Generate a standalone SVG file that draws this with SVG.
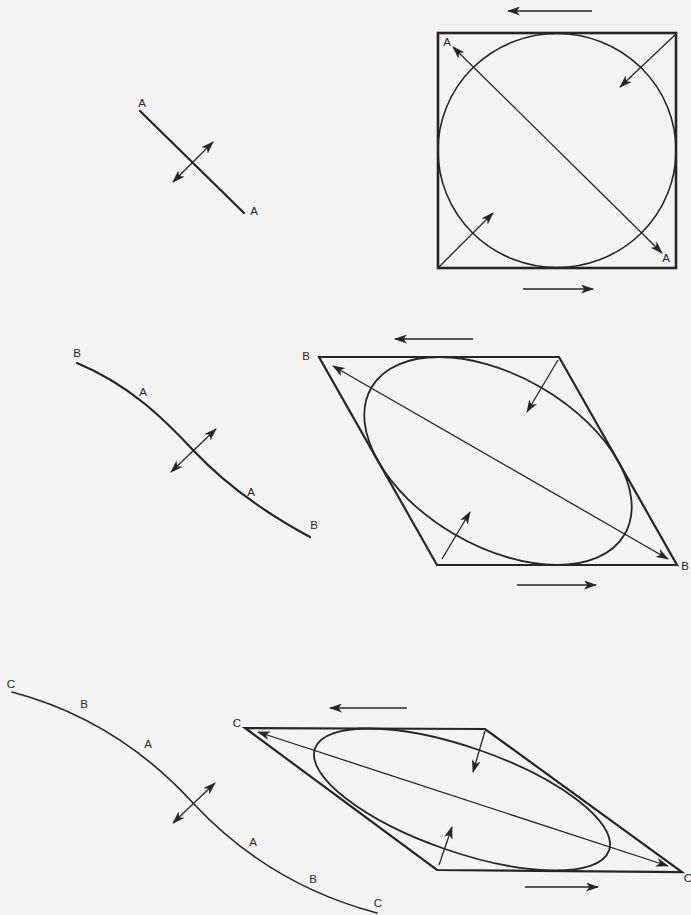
<svg xmlns="http://www.w3.org/2000/svg" width="691" height="915" viewBox="0 0 691 915">
<style>
.bg{fill:#f3f3f3}
.ln{fill:none;stroke:#262626;stroke-linecap:round}
.thick{stroke-width:2.2}
.mid{stroke-width:1.6}
.thin{stroke-width:1.1}
.arr{fill:none;stroke:#262626;stroke-width:1.3;marker-end:url(#ah)}
.dbl{fill:none;stroke:#262626;stroke-width:1.3;marker-start:url(#ah);marker-end:url(#ah)}
.lbl{font-family:"Liberation Sans",Arial,sans-serif;font-size:11.5px;fill:#262626;text-anchor:middle}
</style>
<defs>
<marker id="ah" viewBox="0 0 13 9" refX="12" refY="4.5" markerWidth="13" markerHeight="9" markerUnits="userSpaceOnUse" orient="auto-start-reverse">
<path d="M0,0 L13,4.5 L0,9 L3.5,4.5 Z" fill="#262626"/>
</marker>
</defs>
<rect class="bg" x="0" y="0" width="691" height="915"/>

<g id="fig-a-line">
<path class="ln thick" d="M140,111 L244,213"/>
<text class="lbl" x="142" y="107">A</text>
<text class="lbl" x="254" y="215">A</text>
</g>

<g id="fig-a-square">
<rect class="ln" x="438" y="33" width="238" height="235" stroke-width="2.6"/>
<ellipse class="ln mid" cx="557" cy="150.5" rx="119" ry="117"/>
<text class="lbl" x="447" y="46">A</text>
<text class="lbl" x="666" y="262">A</text>
</g>

<g id="fig-b-curve">
<path class="ln thick" d="M77,363 C130,385 165,420 193,450 C221,480 260,510 310,537"/>
<text class="lbl" x="77" y="357">B</text>
<text class="lbl" x="143" y="396">A</text>
<text class="lbl" x="251" y="496">A</text>
<text class="lbl" x="314" y="529">B</text>
</g>

<g id="fig-b-rhombus">
<path class="ln thick" d="M319,357 L559,357 L677,565 L437,565 Z"/>
<circle class="ln" cx="0" cy="0" r="1" transform="matrix(120,0,59,104,498,461)" vector-effect="non-scaling-stroke" stroke-width="1.8"/>
<text class="lbl" x="306" y="360">B</text>
<text class="lbl" x="685" y="570">B</text>
</g>

<g id="fig-c-curve">
<path class="ln mid" d="M12,692 C80,710 140,745 193,803 C232,845 290,890 377,913"/>
<text class="lbl" x="11" y="688">C</text>
<text class="lbl" x="84" y="708">B</text>
<text class="lbl" x="148" y="748">A</text>
<text class="lbl" x="253" y="846">A</text>
<text class="lbl" x="313" y="883">B</text>
<text class="lbl" x="378" y="907">C</text>
</g>

<g id="fig-c-parallelogram">
<path class="ln thick" d="M245,728 L485,729 L682,872 L437,870 Z"/>
<circle class="ln" cx="0" cy="0" r="1" transform="matrix(116,1,92,71,462,799.5)" vector-effect="non-scaling-stroke" stroke-width="1.8"/>
<text class="lbl" x="237" y="727">C</text>
<text class="lbl" x="688" y="882">C</text>
</g>

<g id="connectors">
<path class="dbl" d="M173,182 L213,142"/>
<path class="dbl" d="M453,47 L662,253" stroke-width="1.1"/>
<path class="arr" d="M676,34 L620,87"/>
<path class="arr" d="M438,268 L493,213"/>
<path class="arr" d="M592,11 L508,11"/>
<path class="arr" d="M523,289 L593,289" stroke-width="1"/>

<path class="dbl" d="M171,472 L216,429"/>
<path class="dbl" d="M333,366 L668,559" stroke-width="1"/>
<path class="arr" d="M558,360 L527,412"/>
<path class="arr" d="M442,559 L470,512"/>
<path class="arr" d="M473,339 L395,339"/>
<path class="arr" d="M517,585 L596,585"/>

<path class="dbl" d="M173,823 L215,783"/>
<path class="dbl" d="M258,732 L668,866" stroke-width="1"/>
<path class="arr" d="M485,731 L473,772"/>
<path class="arr" d="M439,865 L452,827"/>
<path class="arr" d="M407,708 L330,708"/>
<path class="arr" d="M525,887 L598,887"/>
</g>
</svg>
